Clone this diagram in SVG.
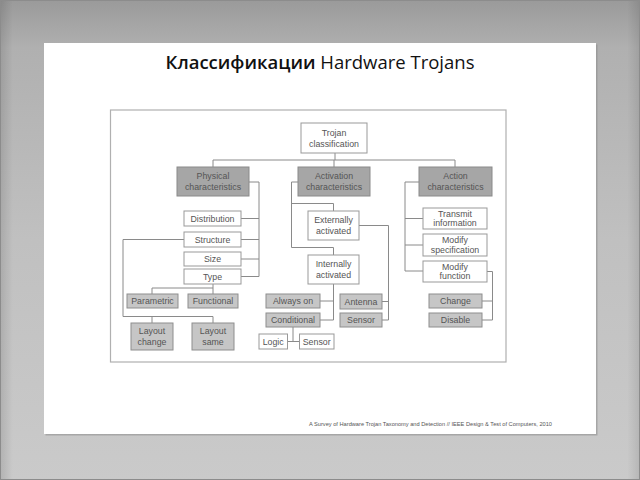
<svg xmlns="http://www.w3.org/2000/svg" width="640" height="480" viewBox="0 0 640 480">
<defs>
<linearGradient id="bg" x1="0" y1="0" x2="0" y2="1">
<stop offset="0" stop-color="#9a9a9a"/>
<stop offset="0.1" stop-color="#b0b0b0"/>
<stop offset="0.5" stop-color="#c0c0c0"/>
<stop offset="1" stop-color="#cacaca"/>
</linearGradient>
<linearGradient id="side" x1="0" y1="0" x2="1" y2="0">
<stop offset="0" stop-color="#000" stop-opacity="0.12"/>
<stop offset="0.02" stop-color="#000" stop-opacity="0"/>
<stop offset="0.98" stop-color="#000" stop-opacity="0"/>
<stop offset="1" stop-color="#000" stop-opacity="0.1"/>
</linearGradient>
<style>
.hd{fill:#a6a6a6;stroke:#8a8a8a;stroke-width:1}
.wb{fill:#fff;stroke:#999;stroke-width:1}
.gb{fill:#c6c6c6;stroke:#8e8e8e;stroke-width:1}
.t{font-family:"Liberation Sans",Arial,sans-serif;font-size:8.8px;fill:#555;text-anchor:middle}
.c path{fill:none;stroke:#8a8a8a;stroke-width:1}
</style>
</defs>
<rect x="0" y="0" width="640" height="480" fill="url(#bg)"/>
<rect x="0" y="0" width="640" height="480" fill="url(#side)"/>
<rect x="0.5" y="0.5" width="639" height="479" fill="none" stroke="#8c8c8c" stroke-width="1"/>
<rect x="45.5" y="44.5" width="552" height="391" fill="#8a8a8a" opacity="0.55"/>
<rect x="44" y="43" width="552" height="391" fill="#fff"/>
<text x="320" y="69" font-family="'Open Sans','Noto Sans',sans-serif" font-size="18.5" fill="#111" text-anchor="middle"><tspan font-weight="600">Классификации</tspan> Hardware Trojans</text>
<rect x="110.5" y="110" width="395.5" height="252" fill="#fff" stroke="#b0b0b0" stroke-width="1.2"/>
<g class="c" id="connectors">
<path d="M335,153 V160 M213,160 H455 M213,160 V167 M334,160 V167 M455,160 V167"/>
<path d="M249,182 H259 V276.5 M241,218.5 H259 M241,239.5 H259 M241,259 H259 M241,276.5 H259"/>
<path d="M184,239.5 H123 V316.5 H213 M152,316.5 V323 M213,316.5 V323"/>
<path d="M213,284 V288 M152,288 H213 M152,288 V294 M213,288 V294"/>
<path d="M298,182 H291.5 V247.5 M291.5,203.5 H333.5 V211 M291.5,247.5 H333.5 V255"/>
<path d="M359,225.5 H388.5 V320 M382,301.5 H388.5 M382,320 H388.5"/>
<path d="M333.5,284 V320 M320,301 H333.5 M320,320 H333.5"/>
<path d="M293,327 V341.5 M287.5,341.5 H299.5"/>
<path d="M419,182 H405 V271 M405,218.5 H423 M405,245 H423 M405,271 H423"/>
<path d="M487,271.5 H492.5 V320 M482,301 H492.5 M482,320 H492.5"/>
</g>
<g id="trojan"><rect class="wb" x="301" y="123" width="66" height="30"/><text class="t" x="334" y="135.5">Trojan</text><text class="t" x="334" y="146.5">classification</text></g>
<g id="physical"><rect class="hd" x="177" y="167" width="72" height="29"/><text class="t" x="213" y="179">Physical</text><text class="t" x="213" y="190">characteristics</text></g>
<g id="activation"><rect class="hd" x="298" y="167" width="72" height="29"/><text class="t" x="334" y="179">Activation</text><text class="t" x="334" y="190">characteristics</text></g>
<g id="action"><rect class="hd" x="419" y="167" width="73" height="29"/><text class="t" x="455.5" y="179">Action</text><text class="t" x="455.5" y="190">characteristics</text></g>
<g id="distribution"><rect class="wb" x="184" y="211" width="57" height="15"/><text class="t" x="212.5" y="221.5">Distribution</text></g>
<g id="structure"><rect class="wb" x="184" y="232" width="57" height="15"/><text class="t" x="212.5" y="242.5">Structure</text></g>
<g id="size"><rect class="wb" x="184" y="252" width="57" height="14"/><text class="t" x="212.5" y="262">Size</text></g>
<g id="type"><rect class="wb" x="184" y="269" width="57" height="15"/><text class="t" x="212.5" y="279.5">Type</text></g>
<g id="parametric"><rect class="gb" x="127" y="294" width="51" height="14"/><text class="t" x="152.5" y="304">Parametric</text></g>
<g id="functional"><rect class="gb" x="188" y="294" width="50" height="14"/><text class="t" x="213" y="304">Functional</text></g>
<g id="layout-change"><rect class="gb" x="131" y="323" width="42" height="27"/><text class="t" x="152" y="334">Layout</text><text class="t" x="152" y="345">change</text></g>
<g id="layout-same"><rect class="gb" x="192" y="323" width="42" height="27"/><text class="t" x="213" y="334">Layout</text><text class="t" x="213" y="345">same</text></g>
<g id="externally"><rect class="wb" x="308" y="211" width="51" height="29"/><text class="t" x="333.5" y="223">Externally</text><text class="t" x="333.5" y="234">activated</text></g>
<g id="internally"><rect class="wb" x="308" y="255" width="51" height="29"/><text class="t" x="333.5" y="267">Internally</text><text class="t" x="333.5" y="278">activated</text></g>
<g id="always-on"><rect class="gb" x="266" y="294" width="54" height="14"/><text class="t" x="293" y="304">Always on</text></g>
<g id="conditional"><rect class="gb" x="266" y="313" width="54" height="14"/><text class="t" x="293" y="323">Conditional</text></g>
<g id="antenna"><rect class="gb" x="340" y="294" width="42" height="15"/><text class="t" x="361" y="304.5">Antenna</text></g>
<g id="sensor-ext"><rect class="gb" x="340" y="313" width="42" height="14"/><text class="t" x="361" y="323">Sensor</text></g>
<g id="logic"><rect class="wb" x="259" y="334" width="28.5" height="15"/><text class="t" x="273.2" y="344.5">Logic</text></g>
<g id="sensor-int"><rect class="wb" x="299.5" y="334" width="34.5" height="15"/><text class="t" x="316.7" y="344.5">Sensor</text></g>
<g id="transmit"><rect class="wb" x="423" y="208" width="64" height="21"/><text class="t" x="455" y="216.5">Transmit</text><text class="t" x="455" y="226">information</text></g>
<g id="modify-spec"><rect class="wb" x="423" y="234" width="64" height="22"/><text class="t" x="455" y="243">Modify</text><text class="t" x="455" y="252.5">specification</text></g>
<g id="modify-func"><rect class="wb" x="423" y="261" width="64" height="21"/><text class="t" x="455" y="269.5">Modify</text><text class="t" x="455" y="279">function</text></g>
<g id="change"><rect class="gb" x="429" y="294" width="53" height="14"/><text class="t" x="455.5" y="304">Change</text></g>
<g id="disable"><rect class="gb" x="429" y="313" width="53" height="14"/><text class="t" x="455.5" y="323">Disable</text></g>
<text x="309" y="425.5" font-family="'Liberation Sans',Arial,sans-serif" font-size="5.4" fill="#555" textLength="243" lengthAdjust="spacingAndGlyphs">A Survey of Hardware Trojan Taxonomy and Detection // IEEE Design &amp; Test of Computers, 2010</text>
</svg>
